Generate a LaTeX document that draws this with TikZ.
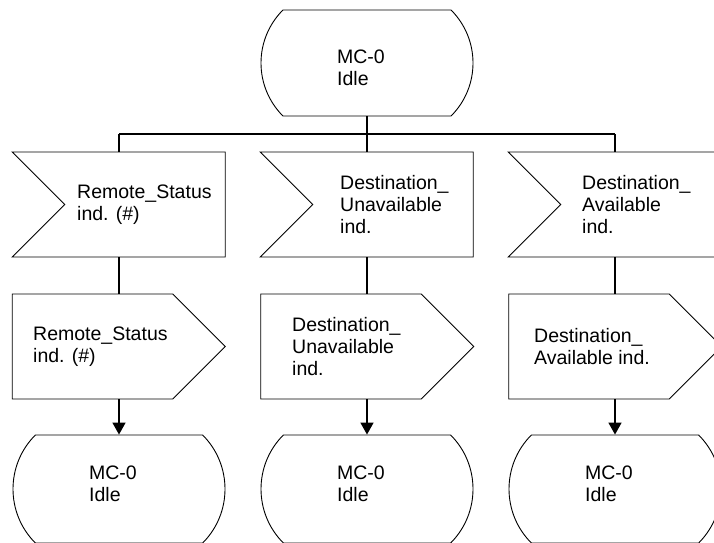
\documentclass[tikz,border=0pt]{standalone}
\usepackage{fontspec}
\setmainfont{Liberation Sans}
\usetikzlibrary{arrows.meta,positioning,shapes.misc,shapes.symbols}

\begin{document}
\begin{tikzpicture}[x=1pt,y=-1pt,
  every node/.style={align=left,font=\fontsize{19.5}{22}\selectfont},
  statebox/.style={draw,line width=.9pt,rounded rectangle,rounded rectangle arc length=90,minimum width=212pt,minimum height=106pt,inner sep=0pt},
  inbox/.style={draw,line width=.9pt,signal,signal from=west,signal to=nowhere,signal pointer angle=90,minimum width=213pt,minimum height=105pt,inner sep=0pt},
  outbox/.style={draw,line width=.9pt,signal,signal to=east,signal from=nowhere,signal pointer angle=90,minimum width=213pt,minimum height=105pt,inner sep=0pt},
  txt/.style={anchor=west,inner sep=0pt},
  flow/.style={line width=1.6pt}]
  \useasboundingbox (0,0) rectangle (714,542);
  % start state
  \node[statebox] (s0) at (367,63) {};
  \node[inner sep=0pt] (s0t) at ([xshift=-6pt,yshift=-5pt]s0.center) {MC-0\\Idle};
  \coordinate (bus) at (0,134);
  % next states (they fix the three columns)
  \node[statebox,minimum height=108pt] (rss) at (119,489) {};
  \node[statebox,minimum height=108pt] (dus) at (367,489) {};
  \node[statebox,minimum height=108pt] (das) at (615,489) {};
  \node[inner sep=0pt] (rsst) at ([xshift=-6pt,yshift=5pt]rss.center) {MC-0\\Idle};
  \node[inner sep=0pt] (dust) at ([xshift=-6pt,yshift=5pt]dus.center) {MC-0\\Idle};
  \node[inner sep=0pt] (dast) at ([xshift=-6pt,yshift=5pt]das.center) {MC-0\\Idle};
  % inputs
  \node[inbox] (rsin) at (145,204.5) {};
  \node[inbox] (duin) at (393,204.5) {};
  \node[inbox] (dain) at (641,204.5) {};
  \node[txt] (rsint) at ([xshift=-68pt]rsin.center) {Remote\_Status\\ind. (\#)};
  \node[txt] (duint) at ([xshift=-53pt]duin.center) {Destination\_\\Unavailable\\ind.};
  \node[txt] (daint) at ([xshift=-59pt]dain.center) {Destination\_\\Available\\ind.};
  % outputs
  \node[outbox] (rsout) at (92.5,346.5) {};
  \node[outbox] (duout) at (341,346.5) {};
  \node[outbox] (daout) at (589,346.5) {};
  \node[txt] (rsoutt) at ([xshift=-59.5pt]rsout.center) {Remote\_Status\\ind. (\#)};
  \node[txt] (duoutt) at ([xshift=-49pt]duout.center) {Destination\_\\Unavailable\\ind.};
  \node[txt] (daoutt) at ([xshift=-55pt]daout.center) {Destination\_\\Available ind.};
  % connectors
  \draw[line width=1.2pt] (rss.north |- bus) -- (das.north |- bus);
  \draw[flow] (s0.south) -- (s0.south |- duin.north);
  \draw[flow] (rss.north |- bus) -- (rss.north |- rsin.north);
  \draw[flow] (das.north |- bus) -- (das.north |- dain.north);
  \draw[flow] (rss.north |- rsin.south) -- (rss.north |- rsout.north);
  \draw[flow] (dus.north |- duin.south) -- (dus.north |- duout.north);
  \draw[flow] (das.north |- dain.south) -- (das.north |- daout.north);
  \draw[flow,-{Triangle[length=12pt,width=13pt]}] (rss.north |- rsout.south) -- (rss.north);
  \draw[flow,-{Triangle[length=12pt,width=13pt]}] (dus.north |- duout.south) -- (dus.north);
  \draw[flow,-{Triangle[length=12pt,width=13pt]}] (das.north |- daout.south) -- (das.north);
\end{tikzpicture}
\end{document}
